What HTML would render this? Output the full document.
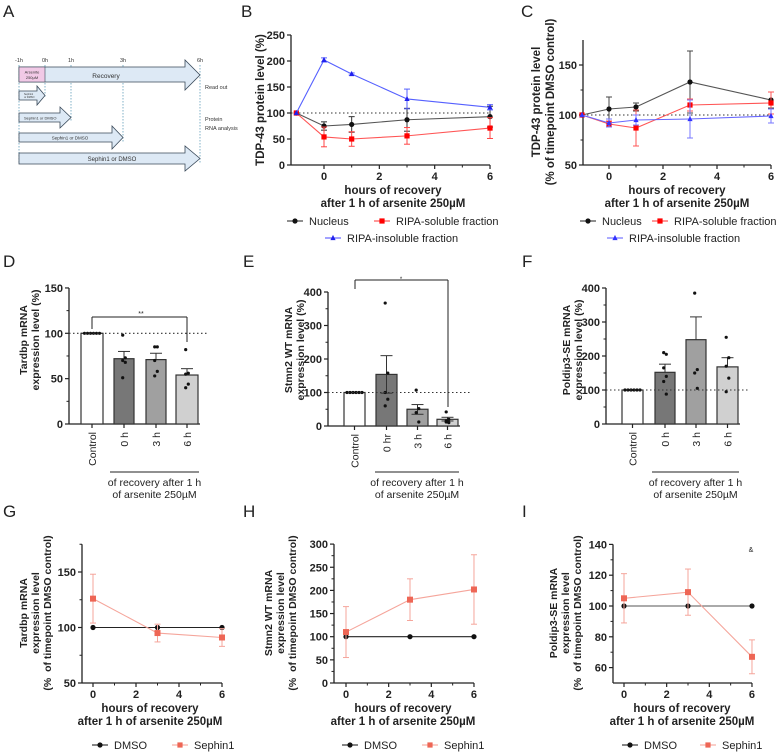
<!DOCTYPE html>
<html><head><meta charset="utf-8">
<style>
html,body{margin:0;padding:0;background:#fff;}
svg{display:block;font-family:"Liberation Sans",Arial,sans-serif;}
</style></head>
<body>
<svg id="s" width="777" height="753" viewBox="0 0 777 753" xmlns="http://www.w3.org/2000/svg">
<g font-size="5.5" fill="#333">
<text x="3" y="17" font-size="17" fill="#222">A</text>
<text x="19" y="62" text-anchor="middle">-1h</text>
<text x="45" y="62" text-anchor="middle">0h</text>
<text x="71" y="62" text-anchor="middle">1h</text>
<text x="123" y="62" text-anchor="middle">3h</text>
<text x="200" y="62" text-anchor="middle">6h</text>
<g stroke="#4a8fb0" stroke-dasharray="1.5,1.5" stroke-width="0.7">
<line x1="19" y1="65" x2="19" y2="164"/><line x1="45" y1="65" x2="45" y2="98"/>
<line x1="71" y1="65" x2="71" y2="122"/><line x1="123" y1="65" x2="123" y2="142"/>
<line x1="200" y1="65" x2="200" y2="164"/></g>
<g fill="#dde9f5" stroke="#3a4a5a" stroke-width="0.8">
<polygon points="19,67 185,67 185,60 200,75 185,90 185,82 19,82"/>
<polygon points="19,91 37,91 37,86 45,95.5 37,105 37,100 19,100"/>
<polygon points="19,113 60,113 60,107 71,117.5 60,128 60,122 19,122"/>
<polygon points="19,133 112,133 112,126 123,137.5 112,149 112,142 19,142"/>
<polygon points="19,153 185,153 185,146 200,158.5 185,171 185,164 19,164"/>
</g>
<rect x="19" y="67" width="26" height="15" fill="#f1c9e6" stroke="#3a4a5a" stroke-width="0.6"/>
<text x="32" y="73.5" text-anchor="middle" font-size="4">Arsenite</text>
<text x="32" y="79" text-anchor="middle" font-size="4">250µM</text>
<text x="24" y="95" font-size="2.5">Sephin1</text><text x="24" y="98" font-size="2.5">or DMSO</text>
<text x="24" y="119.5" font-size="4">Sephin1 or DMSO</text>
<text x="70" y="139.5" text-anchor="middle" font-size="4.5">Sephin1 or DMSO</text>
<text x="112" y="161" text-anchor="middle" font-size="6">Sephin1 or DMSO</text>
<text x="106" y="78" text-anchor="middle" font-size="6.5">Recovery</text>
<text x="205" y="89" font-size="5.5">Read out</text>
<text x="205" y="121" font-size="5.5">Protein</text>
<text x="205" y="130" font-size="5.5">RNA analysis</text>
</g>
<g id="g"></g>
</svg>
<script>
var out=[];
function L(x1,y1,x2,y2,c,w,d){out.push('<line x1="'+x1+'" y1="'+y1+'" x2="'+x2+'" y2="'+y2+'" stroke="'+(c||'#222')+'" stroke-width="'+(w||1)+'"'+(d?' stroke-dasharray="'+d+'"':'')+'/>');}
function T(x,y,s,o){o=o||{};out.push('<text x="'+x+'" y="'+y+'" font-size="'+(o.fs||10)+'" text-anchor="'+(o.a||'middle')+'" font-weight="'+(o.b?'bold':'normal')+'" fill="'+(o.c||'#222')+'"'+(o.r?' transform="rotate(-90 '+x+' '+y+')"':'')+'>'+s+'</text>');}
function M(x,y,t,c,sz){sz=sz||2.6;
 if(t=='c')out.push('<circle cx="'+x+'" cy="'+y+'" r="'+sz+'" fill="'+c+'"/>');
 else if(t=='s')out.push('<rect x="'+(x-sz)+'" y="'+(y-sz)+'" width="'+2*sz+'" height="'+2*sz+'" fill="'+c+'"/>');
 else out.push('<polygon points="'+x+','+(y-sz-0.5)+' '+(x-sz)+','+(y+sz-0.5)+' '+(x+sz)+','+(y+sz-0.5)+'" fill="'+c+'"/>');}
function letter(x,y,s){T(x,y,s,{fs:17,a:'start'});}
function lp(o){
 var X=function(v){return o.x0+o.xu*v;}, Y=function(v){return o.yb-(v-o.vmin)*o.pu;};
 var xe=X(6);
 L(o.ax,o.yb,o.ax,Y(o.vmax),'#222',1.3);
 L(o.ax,o.yb,xe,o.yb,'#222',1.3);
 o.yt.forEach(function(v){L(o.ax-4,Y(v),o.ax,Y(v),'#222',1.2);T(o.ax-6,Y(v)+4,v,{fs:11,b:1,a:'end'});});
 (o.ym||[]).forEach(function(v){L(o.ax-2.5,Y(v),o.ax,Y(v),'#222',1);});
 [0,2,4,6].forEach(function(v){L(X(v),o.yb,X(v),o.yb+4,'#222',1.2);T(X(v),o.yb+15,v,{fs:11,b:1});});
 [1,3,5].forEach(function(v){L(X(v),o.yb,X(v),o.yb+2.5,'#222',1);});
 if(o.dot)L(o.ax,Y(100),xe,Y(100),'#333',1.1,'1.5,2.5');
 o.ser.forEach(function(s){
  var p=s.d.map(function(d){return X(d[0])+','+Y(d[1]);}).join(' ');
  out.push('<polyline points="'+p+'" fill="none" stroke="'+s.lc+'" stroke-width="1.1"/>');
  s.d.forEach(function(d){if(d[2]){var x=X(d[0]);L(x,Y(d[1]-d[2]),x,Y(d[1]+d[2]),s.ec,1);L(x-3,Y(d[1]-d[2]),x+3,Y(d[1]-d[2]),s.ec,1);L(x-3,Y(d[1]+d[2]),x+3,Y(d[1]+d[2]),s.ec,1);}
   M(X(d[0]),Y(d[1]),s.m,s.c,s.sz);});
 });
 T(o.tc,o.yb+29,'hours of recovery',{fs:11.5,b:1});
 T(o.tc,o.yb+42,'after 1 h of arsenite 250µM',{fs:11.5,b:1});
}
function leg(x,y,t,c,lc,m,s){L(x-8,y,x+8,y,lc,1.1);M(x,y,m,c,2.6);T(x+14,y+4,s,{fs:11,a:'start'});}
letter(241,17,'B');
lp({ax:291,x0:324,xu:27.67,yb:165,vmin:0,pu:0.52,vmax:250,yt:[0,50,100,150,200,250],dot:1,tc:393,
 ser:[{d:[[-1,100],[0,75,8],[1,78,15],[3,87,22],[6,93,20]],lc:'#555',c:'#111',ec:'#333',m:'c'},
 {d:[[-1,100],[0,54,19],[1,50,14],[3,56,16],[6,71,20]],lc:'#f55',c:'#f00',ec:'#f44',m:'s'},
 {d:[[-1,100],[0,202,4],[1,175,2],[3,127,19],[6,111,5]],lc:'#5560ff',c:'#2020ee',ec:'#5560ff',m:'t'}]});
T(264,100,'TDP-43 protein level (%)',{fs:11.5,b:1,r:1});
leg(295,221,'','#111','#333','c','Nucleus');leg(382,221,'','#f00','#f44','s','RIPA-soluble fraction');leg(333,238,'','#22e','#55f','t','RIPA-insoluble fraction');
letter(521,17,'C');
lp({ax:583,x0:609,xu:27,yb:165,vmin:50,pu:1,vmax:175,yt:[50,100,150],ym:[75,125],dot:1,tc:677,
 ser:[{d:[[-1,100],[0,106,12],[1,108,4],[3,133,31],[6,115,8]],lc:'#555',c:'#111',ec:'#444',m:'c'},
 {d:[[-1,100],[0,91,3],[1,87,18],[3,110,6],[6,112,11]],lc:'#f55',c:'#f00',ec:'#f55',m:'s'},
 {d:[[-1,100],[0,92,4],[1,95,5],[3,96,19],[6,99,7]],lc:'#66f',c:'#33f',ec:'#77f',m:'t'}]});
T(540,102,'TDP-43 protein level',{fs:11.5,b:1,r:1});T(554,102,'(% of timepoint DMSO control)',{fs:11.5,b:1,r:1});
leg(588,221,'','#111','#333','c','Nucleus');leg(660,221,'','#f00','#f44','s','RIPA-soluble fraction');leg(615,238,'','#33f','#66f','t','RIPA-insoluble fraction');
function bp(o){
 var Y=function(v){return o.yb-v*o.pu;};
 L(o.ax,o.yb,o.ax,Y(o.vmax),'#222',1.3);L(o.ax,o.yb,o.xe,o.yb,'#222',1.3);
 o.yt.forEach(function(v){L(o.ax-4,Y(v),o.ax,Y(v),'#222',1.2);T(o.ax-6,Y(v)+4,v,{fs:11,b:1,a:'end'});});
 o.ym.forEach(function(v){L(o.ax-2.5,Y(v),o.ax,Y(v),'#222',1);});
 o.b.forEach(function(b,bi){var cx=(b.x1+b.x2)/2;
  out.push('<rect x="'+b.x1+'" y="'+Y(b.v)+'" width="'+(b.x2-b.x1)+'" height="'+(b.v*o.pu)+'" fill="'+b.f+'" stroke="#333" stroke-width="1.2"/>');
  if(b.e){L(cx,Y(b.v),cx,Y(b.v+b.e),'#333',1);L(cx-6,Y(b.v+b.e),cx+6,Y(b.v+b.e),'#333',1);if(b.e2){L(cx,Y(b.v),cx,Y(b.v-b.e2),'#333',1);L(cx-6,Y(b.v-b.e2),cx+6,Y(b.v-b.e2),'#333',1);}}
  b.p.forEach(function(v,i){var dx=bi==0?(i-(b.p.length-1)/2)*3:((i%2)?1.3:-1.3);M(cx+dx,Y(v),'c','#111',1.6);});
  L(cx,o.yb,cx,o.yb+4,'#222',1.2);
  T(cx+4,o.yb+8,b.l,{fs:10.5,a:'end',r:1});
 });
 L(o.ax,Y(100),o.de,Y(100),'#333',1.1,'1.5,2.5');
 L(o.lx1,472,o.lx2,472,'#222',1);
 T((o.lx1+o.lx2)/2,486,'of recovery after 1 h',{fs:10.5});T((o.lx1+o.lx2)/2,498,'of arsenite 250µM',{fs:10.5});
}
letter(3,267,'D');
bp({ax:69,yb:424,pu:0.907,vmax:150,yt:[0,50,100,150],ym:[25,75,125],xe:200,de:207,lx1:110,lx2:199,
 b:[{x1:81,x2:103,v:100,f:'#fff',p:[100,100,100,100,100,100]},
 {x1:114,x2:134,v:72,e:8,f:'#777',p:[98,73,70,68,51]},
 {x1:146,x2:166,v:71,e:7,f:'#a0a0a0',p:[85,85,70,58,53]},
 {x1:176,x2:198,v:54,e:7,f:'#d0d0d0',p:[82,56,55,44,40]}].map(function(b,i){b.l=['Control','0 h','3 h','6 h'][i];return b;})});
L(92,317,187,317,'#222',1);L(92,317,92,329,'#222',1);L(187,317,187,342,'#222',1);T(141,316,'**',{fs:7});
T(27,340,'Tardbp mRNA',{fs:10.5,b:1,r:1});T(39,340,'expression level (%)',{fs:10.5,b:1,r:1});
letter(243,267,'E');
bp({ax:328,yb:426,pu:0.335,vmax:400,yt:[0,100,200,300,400],ym:[50,150,250,350],xe:460,de:470,lx1:375,lx2:459,
 b:[{x1:344,x2:365,v:100,f:'#fff',p:[100,100,100,100,100,100]},
 {x1:376,x2:397,v:154,e:56,e2:56,f:'#777',p:[367,158,100,80,60]},
 {x1:407,x2:428,v:50,e:14,e2:15,f:'#a0a0a0',p:[107,52,40,12]},
 {x1:437,x2:458,v:20,e:6,e2:5,f:'#d0d0d0',p:[42,20,15,10,12]}].map(function(b,i){b.l=['Control','0 hr','3 h','6 h'][i];return b;})});
L(355,280,448,280,'#222',1);L(355,280,355,289,'#222',1);L(448,280,448,407,'#222',1);T(401,281,'*',{fs:6});
T(292,350,'Stmn2 WT mRNA',{fs:10.5,b:1,r:1});T(304,350,'expression level (%)',{fs:10.5,b:1,r:1});
letter(522,267,'F');
bp({ax:606,yb:424,pu:0.34,vmax:400,yt:[0,100,200,300,400],ym:[50,150,250,350],xe:740,de:748,lx1:652,lx2:739,
 b:[{x1:622,x2:643,v:100,f:'#fff',p:[100,100,100,100,100,100]},
 {x1:655,x2:675,v:152,e:24,f:'#777',p:[210,205,165,140,125,88]},
 {x1:686,x2:706,v:248,e:67,f:'#a0a0a0',p:[385,160,150,105]},
 {x1:717,x2:738,v:168,e:27,f:'#d0d0d0',p:[255,195,170,135,95]}].map(function(b,i){b.l=['Control','0 h','3 h','6 h'][i];return b;})});
T(570,350,'Poldip3-SE mRNA',{fs:10.5,b:1,r:1});T(582,350,'expression level (%)',{fs:10.5,b:1,r:1});
var sal='#ee6655',sall='#f5a59b';
function ylab3(x,y,a){T(x,y,a,{fs:10.5,b:1,r:1});T(x+12,y,'expression level',{fs:10.5,b:1,r:1});T(x+24,y,'(% &#160;of timepoint DMSO control)',{fs:10.5,b:1,r:1});}
letter(3,517,'G');
lp({ax:82,x0:93,xu:21.5,yb:683,vmin:50,pu:1.11,vmax:175,yt:[50,100,150],ym:[75,125,175],tc:150,
 ser:[{d:[[0,100],[3,100],[6,100]],lc:'#222',c:'#111',ec:'#222',m:'c'},
 {d:[[0,126,22],[3,95,8],[6,91,8]],lc:sall,c:sal,ec:sall,m:'s',sz:3}]});
ylab3(27,613,'Tardbp mRNA');
leg(100,745,'','#111','#222','c','DMSO');leg(180,745,'',sal,sall,'s','Sephin1');
letter(243,517,'H');
lp({ax:334,x0:346,xu:21.33,yb:683,vmin:0,pu:0.463,vmax:300,yt:[0,50,100,150,200,250,300],ym:[25,75,125,175,225,275],tc:403,
 ser:[{d:[[0,100],[3,100],[6,100]],lc:'#222',c:'#111',ec:'#222',m:'c'},
 {d:[[0,110,55],[3,180,45],[6,202,75]],lc:sall,c:sal,ec:sall,m:'s',sz:3}]});
ylab3(272,613,'Stmn2 WT mRNA');
leg(350,745,'','#111','#222','c','DMSO');leg(430,745,'',sal,sall,'s','Sephin1');
letter(522,517,'I');
lp({ax:613,x0:624,xu:21.33,yb:683,vmin:50,pu:1.54,vmax:140,yt:[60,80,100,120,140],ym:[70,90,110,130],tc:682,
 ser:[{d:[[0,100],[3,100],[6,100]],lc:'#555',c:'#111',ec:'#222',m:'c'},
 {d:[[0,105,16],[3,109,15],[6,67,11]],lc:sall,c:sal,ec:sall,m:'s',sz:3}]});
T(751,552,'&amp;',{fs:7});
ylab3(557,613,'Poldip3-SE mRNA');
leg(630,745,'','#111','#222','c','DMSO');leg(708,745,'',sal,sall,'s','Sephin1');
document.getElementById('g').innerHTML=out.join('');
</script>
</body></html>
